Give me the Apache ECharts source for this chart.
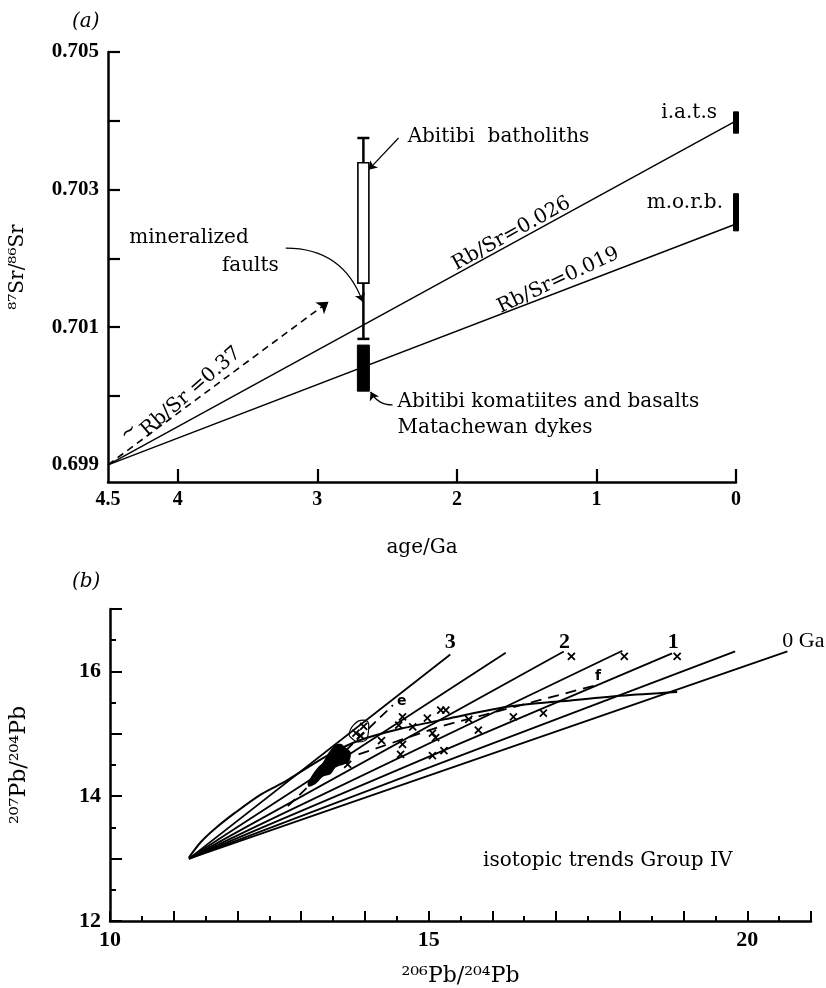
<!DOCTYPE html>
<html>
<head>
<meta charset="utf-8">
<script src="https://cdn.jsdelivr.net/npm/echarts@6/dist/echarts.min.js"></script>
<style>
  html, body { margin: 0; padding: 0; background: #fff; }
  #chart { width: 826px; height: 988px; }
</style>
</head>
<body>
<div id="chart"></div>
<script>
// ---- (a) Sr isotope evolution ----
var ageLabels = [4.5, 4, 3, 2, 1, 0];
var ageTicks = [4, 3, 2, 1, 0];
var srLabels = [0.699, 0.701, 0.703, 0.705];
var srTicks = [0.700, 0.701, 0.702, 0.703, 0.704, 0.705];

var line026 = [[4.5, 0.699], [0, 0.7040]];
var line019 = [[4.5, 0.699], [0, 0.7025]];
var arrow037 = [[4.5, 0.699], [2.92, 0.70137]];

var abitibiAge = 2.67;
var faultRange = [0.70083, 0.70375];
// [age, low, high]
var boxes = [
  [abitibiAge, 0.70164, 0.70339],   // batholiths (open)
  [abitibiAge, 0.70007, 0.70074],   // komatiites (solid)
  [0, 0.70382, 0.70413],            // i.a.t.s
  [0, 0.70240, 0.70294]             // m.o.r.b.
];
var boxKinds = ['open', 'solid', 'thin', 'thin'];

var topLeaders = [
  [[2.418, 0.70375], [2.632, 0.70329]],
  [[3.226, 0.70215], [2.675, 0.70137]],
  [[2.461, 0.69987], [2.618, 0.70006]]
];
var topLeaderBend = [0, 0.35, 0.3];

var topNotes = [
  ['Abitibi  batholiths', 2.353, 0.70377],
  ['mineralized', 3.92, 0.70230],
  ['faults', 3.48, 0.70189],
  ['Abitibi komatiites and basalts', 2.425, 0.69991],
  ['Matachewan dykes', 2.425, 0.69954],
  ['i.a.t.s', 0.136, 0.70411],
  ['m.o.r.b.', 0.093, 0.70281],
  ['Rb/Sr=0.026', 1.609, 0.70236],
  ['Rb/Sr=0.019', 1.273, 0.70168],
  ['Rb/Sr =0.37', 3.906, 0.70006],
  ['~', 4.35, 0.69948]
];

// ---- (b) Pb isotopes ----
var pbOrigin = [11.24, 13.0];
var isochronEnds = [[15.34, 16.27], [16.21, 16.30], [17.12, 16.32], [18.04, 16.33],
                    [18.82, 16.29], [19.81, 16.32], [20.63, 16.32]];
var growthCurve = [[11.24, 13.02], [11.43, 13.27], [11.66, 13.49], [11.97, 13.74], [12.37, 14.03],
                   [12.76, 14.24], [12.99, 14.39], [13.46, 14.68], [13.93, 14.90], [14.56, 15.08],
                   [15.34, 15.25], [16.29, 15.44], [17.07, 15.52], [18.01, 15.61], [18.90, 15.67]];
var trendE = [[12.79, 13.84], [14.44, 15.46]];
var trendF = [[13.90, 14.67], [15.19, 15.12], [16.08, 15.36], [16.71, 15.53], [17.59, 15.77]];
var loopPts = [[13.75, 14.98], [13.82, 15.14], [13.98, 15.22], [14.06, 15.14], [14.04, 14.94],
               [13.89, 14.87], [13.78, 14.94], [13.75, 14.98]];
var blobX = [13.10, 13.18, 13.26, 13.34, 13.43, 13.54, 13.62, 13.70, 13.78, 13.75, 13.67, 13.54, 13.46, 13.34, 13.23, 13.12];
var blobY = [14.20, 14.35, 14.46, 14.54, 14.70, 14.83, 14.84, 14.78, 14.70, 14.54, 14.51, 14.46, 14.35, 14.31, 14.20, 14.15];
var crosses = [[17.24, 16.24], [18.07, 16.24], [18.90, 16.24], [15.19, 15.38], [15.27, 15.38],
               [14.98, 15.25], [14.75, 15.11], [14.59, 15.27], [14.53, 15.14], [15.06, 15.01],
               [15.11, 14.94], [14.26, 14.89], [14.59, 14.83], [14.56, 14.67], [15.06, 14.65],
               [15.24, 14.73], [15.63, 15.23], [15.78, 15.06], [16.33, 15.27], [16.80, 15.33],
               [13.73, 14.51], [13.98, 15.12], [13.86, 15.01], [13.93, 14.97]];
var bottomNotes = [
  ['3', 15.34, 16.47],
  ['2', 17.13, 16.47],
  ['1', 18.84, 16.47],
  ['0 Ga', 20.55, 16.49],
  ['e', 14.58, 15.52],
  ['f', 17.66, 15.92],
  ['isotopic trends Group IV', 17.81, 12.96]
];

var SERIF = '"DejaVu Serif", "Liberation Serif", serif';
var NUM = '"Liberation Serif", "DejaVu Serif", serif';

var noteLook = {
  'Abitibi  batholiths': { align: 'left' },
  'Abitibi komatiites and basalts': { align: 'left' },
  'Matachewan dykes': { align: 'left' },
  'i.a.t.s': { align: 'right' },
  'm.o.r.b.': { align: 'right' },
  'Rb/Sr=0.026': { rotate: 29 },
  'Rb/Sr=0.019': { rotate: 25 },
  'Rb/Sr =0.37': { rotate: 41 },
  '~': { rotate: 41 },
  '3': { fontFamily: NUM, fontWeight: 'bold', fontSize: 22 },
  '2': { fontFamily: NUM, fontWeight: 'bold', fontSize: 22 },
  '1': { fontFamily: NUM, fontWeight: 'bold', fontSize: 22 },
  '0 Ga': { align: 'left', fontFamily: NUM, fontSize: 22 },
  'e': { fontFamily: '"DejaVu Sans", sans-serif', fontWeight: 'bold', fontSize: 14 },
  'f': { fontFamily: '"DejaVu Sans", sans-serif', fontWeight: 'bold', fontSize: 14 }
};

function noteSeries(notes, idx) {
  return {
    type: 'scatter', xAxisIndex: idx, yAxisIndex: idx, symbolSize: 1, silent: true, z: 10,
    itemStyle: { color: 'rgba(0,0,0,0)', opacity: 1 },
    data: notes.map(function (n) {
      var lab = { show: true, position: 'inside', formatter: n[0], color: '#000',
                  textBorderWidth: 0, textBorderColor: 'transparent',
                  fontFamily: SERIF, fontSize: 20 };
      var extra = noteLook[n[0]] || {};
      for (var k in extra) lab[k] = extra[k];
      return { value: [n[1], n[2]], label: lab };
    })
  };
}

var boxLook = {
  open: { w: 11, fill: '#fff', lw: 1.6 },
  solid: { w: 12, fill: '#000', lw: 1 },
  thin: { w: 5, fill: '#000', lw: 1 }
};

function renderBox(params, api) {
  var s = boxLook[boxKinds[params.dataIndex]];
  var t = api.coord([api.value(0), api.value(2)]);
  var b = api.coord([api.value(0), api.value(1)]);
  return { type: 'rect', shape: { x: t[0] - s.w / 2, y: t[1], width: s.w, height: b[1] - t[1] },
           style: { fill: s.fill, stroke: '#000', lineWidth: s.lw } };
}

function renderFaultBar(params, api) {
  var t = api.coord([api.value(0), api.value(2)]);
  var b = api.coord([api.value(0), api.value(1)]);
  var cap = 6, st = { stroke: '#000', lineWidth: 2.5 };
  return { type: 'group', children: [
    { type: 'line', shape: { x1: t[0], y1: t[1], x2: b[0], y2: b[1] }, style: st },
    { type: 'line', shape: { x1: t[0] - cap, y1: t[1], x2: t[0] + cap, y2: t[1] }, style: st },
    { type: 'line', shape: { x1: b[0] - cap, y1: b[1], x2: b[0] + cap, y2: b[1] }, style: st }
  ] };
}

function renderBlob(params, api) {
  var pts = blobX.map(function (x, i) { return api.coord([x, blobY[i]]); });
  return { type: 'polygon', shape: { points: pts, smooth: 0.25 }, style: { fill: '#000' } };
}

var series = [
  { type: 'line', xAxisIndex: 0, yAxisIndex: 0, data: line026, symbol: 'none', silent: true,
    lineStyle: { color: '#000', width: 1.4 } },
  { type: 'line', xAxisIndex: 0, yAxisIndex: 0, data: line019, symbol: 'none', silent: true,
    lineStyle: { color: '#000', width: 1.4 } },
  { type: 'lines', coordinateSystem: 'cartesian2d', xAxisIndex: 0, yAxisIndex: 0, silent: true,
    symbol: ['none', 'arrow'], symbolSize: 11,
    lineStyle: { color: '#000', width: 1.6, type: [7, 5], opacity: 1 },
    data: [{ coords: arrow037 }] },
  { type: 'lines', coordinateSystem: 'cartesian2d', xAxisIndex: 0, yAxisIndex: 0, silent: true,
    symbol: ['none', 'arrow'], symbolSize: 8,
    data: topLeaders.map(function (c, i) {
      return { coords: c, lineStyle: { color: '#000', width: 1.2, opacity: 1, curveness: topLeaderBend[i] } };
    }) },
  { type: 'custom', xAxisIndex: 0, yAxisIndex: 0, silent: true, renderItem: renderFaultBar,
    encode: { x: 0, y: [1, 2] }, data: [[abitibiAge, faultRange[0], faultRange[1]]] },
  { type: 'custom', xAxisIndex: 0, yAxisIndex: 0, silent: true, renderItem: renderBox,
    encode: { x: 0, y: [1, 2] }, data: boxes, z: 5 },
  noteSeries(topNotes, 0),

  { type: 'lines', coordinateSystem: 'cartesian2d', xAxisIndex: 1, yAxisIndex: 1, silent: true,
    lineStyle: { color: '#000', width: 1.8, opacity: 1 },
    data: isochronEnds.map(function (e) { return { coords: [pbOrigin, e] }; }) },
  { type: 'line', xAxisIndex: 1, yAxisIndex: 1, data: growthCurve, symbol: 'none', smooth: 0.3,
    silent: true, lineStyle: { color: '#000', width: 2 } },
  { type: 'line', xAxisIndex: 1, yAxisIndex: 1, data: trendE, symbol: 'none', silent: true,
    lineStyle: { color: '#000', width: 1.8, type: [10, 6] } },
  { type: 'line', xAxisIndex: 1, yAxisIndex: 1, data: trendF, symbol: 'none', silent: true,
    lineStyle: { color: '#000', width: 1.8, type: [11, 7] } },
  { type: 'line', xAxisIndex: 1, yAxisIndex: 1, data: loopPts, symbol: 'none', smooth: 0.5,
    silent: true, lineStyle: { color: '#000', width: 1.2 } },
  { type: 'custom', xAxisIndex: 1, yAxisIndex: 1, silent: true, renderItem: renderBlob,
    encode: { x: 0, y: 1 }, data: [[blobX[0], blobY[0]]], z: 4 },
  { type: 'scatter', xAxisIndex: 1, yAxisIndex: 1, silent: true, z: 6,
    symbol: 'path://M0,0L10,10M10,0L0,10', symbolSize: 7,
    itemStyle: { color: 'rgba(0,0,0,0)', borderColor: '#000', borderWidth: 1.8, opacity: 1 },
    data: crosses },
  noteSeries(bottomNotes, 1)
];

function axisBase(extra) {
  var a = {
    type: 'value', splitLine: { show: false },
    axisLine: { show: true, onZero: false, lineStyle: { color: '#000', width: 2.5 } },
    axisTick: { show: true, inside: true, length: 12, lineStyle: { color: '#000', width: 2.2 } },
    axisLabel: { color: '#000', fontFamily: NUM, fontWeight: 'bold', fontSize: 21, margin: 9 },
    nameTextStyle: { color: '#000', fontFamily: SERIF, fontSize: 20 },
    nameLocation: 'middle'
  };
  for (var k in extra) a[k] = extra[k];
  return a;
}

var option = {
  animation: false,
  backgroundColor: '#fff',
  grid: [
    { left: 107, top: 52, width: 629, height: 430 },
    { left: 109, top: 609, width: 702, height: 318 }
  ],
  xAxis: [
    axisBase({ gridIndex: 0, min: 0, max: 4.5, inverse: true, name: 'age/Ga', nameGap: 56,
      axisTick: { show: true, inside: true, length: 13, customValues: ageTicks,
                  lineStyle: { color: '#000', width: 2.2 } },
      axisLabel: { color: '#000', fontFamily: NUM, fontWeight: 'bold', fontSize: 20, margin: 8,
                   customValues: ageLabels, showMinLabel: true, showMaxLabel: true,
                   formatter: function (v) { return String(v); } } }),
    axisBase({ gridIndex: 1, min: 10, max: 21, interval: 1, name: '²⁰⁶Pb/²⁰⁴Pb', nameGap: 44,
      nameTextStyle: { color: '#000', fontFamily: SERIF, fontSize: 22 },
      axisTick: { show: true, inside: true, length: 10, lineStyle: { color: '#000', width: 2 } },
      minorTick: { show: true, splitNumber: 2, length: 5, lineStyle: { color: '#000', width: 2 } },
      axisLabel: { color: '#000', fontFamily: NUM, fontWeight: 'bold', fontSize: 22, margin: 8,
                   formatter: function (v) { return (v === 10 || v === 15 || v === 20) ? String(v) : ''; } } })
  ],
  yAxis: [
    axisBase({ gridIndex: 0, min: 0.69875, max: 0.705, name: '⁸⁷Sr/⁸⁶Sr', nameGap: 80,
      axisTick: { show: true, inside: true, length: 12, customValues: srTicks,
                  lineStyle: { color: '#000', width: 2.2 } },
      axisLabel: { color: '#000', fontFamily: NUM, fontWeight: 'bold', fontSize: 21, margin: 9,
                   customValues: srLabels, formatter: function (v) { return v.toFixed(3); } } }),
    axisBase({ gridIndex: 1, min: 12, max: 17, interval: 1, name: '²⁰⁷Pb/²⁰⁴Pb', nameGap: 80,
      nameTextStyle: { color: '#000', fontFamily: SERIF, fontSize: 22 },
      axisTick: { show: true, inside: true, length: 12, lineStyle: { color: '#000', width: 2 } },
      minorTick: { show: true, splitNumber: 2, length: 6, lineStyle: { color: '#000', width: 2 } },
      axisLabel: { color: '#000', fontFamily: NUM, fontWeight: 'bold', fontSize: 22, margin: 9,
                   formatter: function (v) { return (v % 2 === 0) ? String(v) : ''; } } })
  ],
  graphic: [
    { type: 'text', left: 72, top: 12, style: { text: '(a)', font: 'italic 20px "DejaVu Serif", serif', fill: '#000' } },
    { type: 'text', left: 72, top: 572, style: { text: '(b)', font: 'italic 20px "DejaVu Serif", serif', fill: '#000' } }
  ],
  series: series
};

var chart = echarts.init(document.getElementById('chart'));
chart.setOption(option);
</script>
</body>
</html>
